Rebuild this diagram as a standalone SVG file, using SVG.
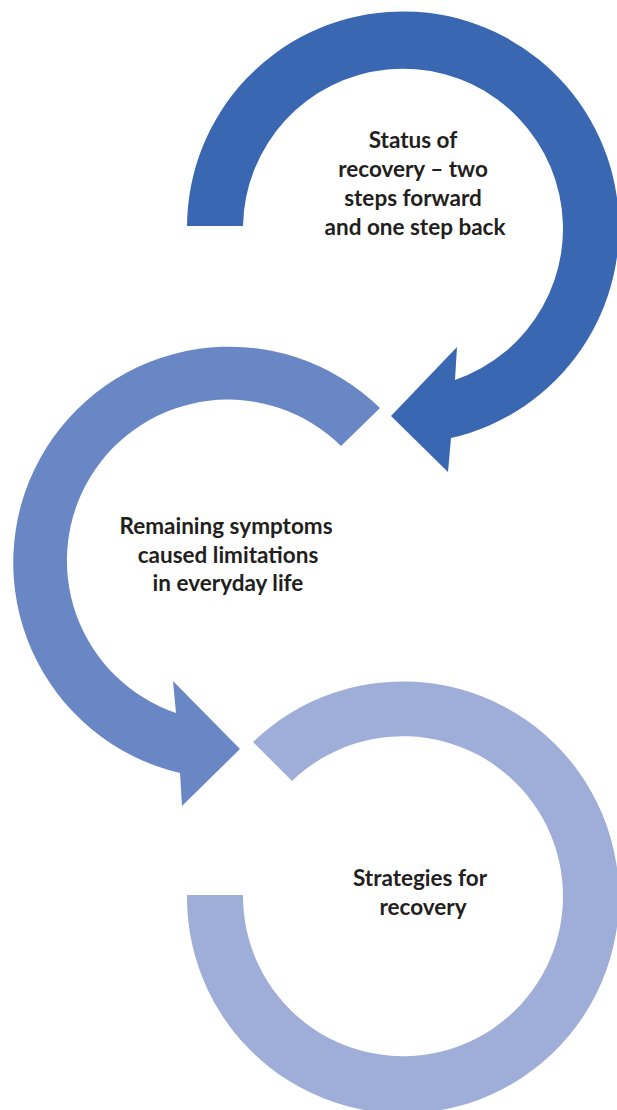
<svg xmlns="http://www.w3.org/2000/svg" width="617" height="1110" viewBox="0 0 617 1110">
<style>
.lbl{font-family:Lato,"Liberation Sans",sans-serif;font-weight:bold;font-size:22.5px;fill:#231f20;text-anchor:middle}
</style>
<rect width="617" height="1110" fill="#ffffff"/>
<g id="connectors">
<path id="arrow1" fill="#3a67b2" d="M187,226 A216,216 0 1 1 451,438 L448,472 L391,416 L457,347 L455,380 A160,160 0 1 0 243,226 Z"/>
<path id="arrow2" fill="#6a87c5" d="M380,408 A216,216 0 1 0 180,773 L182,806 L240,749 L173,681 L176,713 A161,161 0 1 1 341,446 Z"/>
<path id="arrow3" fill="#9eaed8" d="M253,742 A216,216 0 1 1 187,895 L243,895 A160,160 0 1 0 292,781 Z"/>
</g>
<g id="node1">
<text class="lbl" x="413" y="148">Status of</text>
<text class="lbl" x="413" y="177">recovery – two</text>
<text class="lbl" x="413" y="206">steps forward</text>
<text class="lbl" x="415" y="235">and one step back</text>
</g>
<g id="node2">
<text class="lbl" x="226" y="534">Remaining symptoms</text>
<text class="lbl" x="228" y="563">caused limitations</text>
<text class="lbl" x="228" y="591">in everyday life</text>
</g>
<g id="node3">
<text class="lbl" x="420" y="886">Strategies for</text>
<text class="lbl" x="423" y="915">recovery</text>
</g>
</svg>
